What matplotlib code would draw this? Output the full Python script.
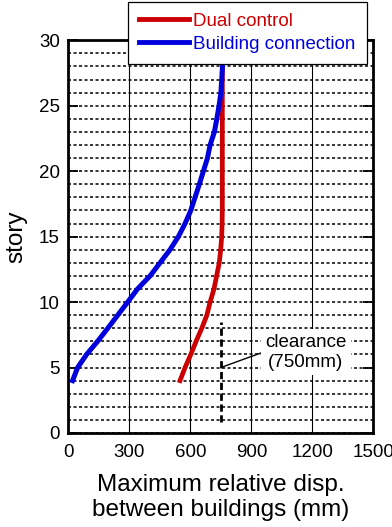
import matplotlib
matplotlib.use('Agg')
import matplotlib.pyplot as plt
from matplotlib.ticker import MultipleLocator

plt.rcParams['font.family'] = ['Liberation Sans', 'DejaVu Sans']

# story vs max relative displacement between buildings (mm)
story_dual = [4, 5, 6, 7, 8, 9, 10, 11, 12, 13, 14, 15, 16, 17, 18, 20, 22, 24, 26, 28]
disp_dual = [549, 574, 602, 628, 656, 681, 697, 716, 729, 742, 749, 754, 756, 757, 757, 757, 757, 757, 757, 757]

story_conn = [4, 5, 6, 7, 8, 9, 10, 11, 12, 13, 14, 15, 16, 17, 18, 19, 20, 21, 22, 23, 24, 25, 26, 27, 28]
disp_conn = [21, 46, 90, 144, 194, 243, 292, 340, 402, 451, 500, 541, 574, 602, 623, 644, 664, 684, 697, 718, 730, 741, 750, 754, 758]

clearance = 750
clearance_range = [0.85, 8.5]

xticks = [0, 300, 600, 900, 1200, 1500]
yticks = [0, 5, 10, 15, 20, 25, 30]

red = '#cc0000'
blue = '#0000dd'

fig = plt.figure(figsize=(3.92, 5.27), dpi=100)
ax = fig.add_axes([0.1742, 0.1784, 0.7786, 0.7452])

ax.set_xlim(0, 1500)
ax.set_ylim(0, 30)
ax.set_xticks(xticks)
ax.set_yticks(yticks)
ax.yaxis.set_minor_locator(MultipleLocator(1))

ax.grid(True, axis='x', which='major', color='black', lw=0.8, ls='-', zorder=1)
ax.grid(True, axis='y', which='both', color='black', lw=1.1, dashes=(2, 1.6), zorder=1)
ax.set_axisbelow(True)

ax.plot([clearance, clearance], clearance_range, color='black', lw=2, dashes=(2.6, 1.3), zorder=2)
ax.plot(disp_dual, story_dual, color=red, lw=3.4, label='Dual control', zorder=3)
ax.plot(disp_conn, story_conn, color=blue, lw=3.6, label='Building connection', zorder=4)

ax.annotate('clearance\n(750mm)', xy=(clearance, 5), xytext=(1168, 6.15),
            ha='center', va='center', fontsize=13.5, zorder=5,
            bbox=dict(boxstyle='square,pad=0.25', fc='white', ec='none'),
            arrowprops=dict(arrowstyle='-', lw=1, color='black', relpos=(0, 0.53),
                            shrinkA=0, shrinkB=0))

for s in ax.spines.values():
    s.set_linewidth(2)

ax.tick_params(axis='y', which='major', direction='in', length=7, width=1.3,
               left=True, right=True, labelsize=13.5, pad=6)
ax.tick_params(axis='y', which='minor', length=0)
ax.tick_params(axis='x', which='major', length=0, labelsize=13.5, pad=8)

ax.set_xlabel('Maximum relative disp.\nbetween buildings (mm)', fontsize=17.5,
              linespacing=1.18, labelpad=9.5)
ax.set_ylabel('story', fontsize=17.5, labelpad=8)

leg = fig.legend(loc='upper right', bbox_to_anchor=(0.9355, 0.9968),
                 bbox_transform=fig.transFigure, borderaxespad=0,
                 fontsize=13.5, handlelength=2.67, handletextpad=0.2,
                 labelspacing=0.3, borderpad=0.6, fancybox=False,
                 framealpha=1, edgecolor='black')
leg.get_frame().set_linewidth(0.9)
for txt, col in zip(leg.get_texts(), [red, blue]):
    txt.set_color(col)
for line in leg.get_lines():
    line.set_linewidth(3.5)

fig.savefig('out.png', dpi=100)
